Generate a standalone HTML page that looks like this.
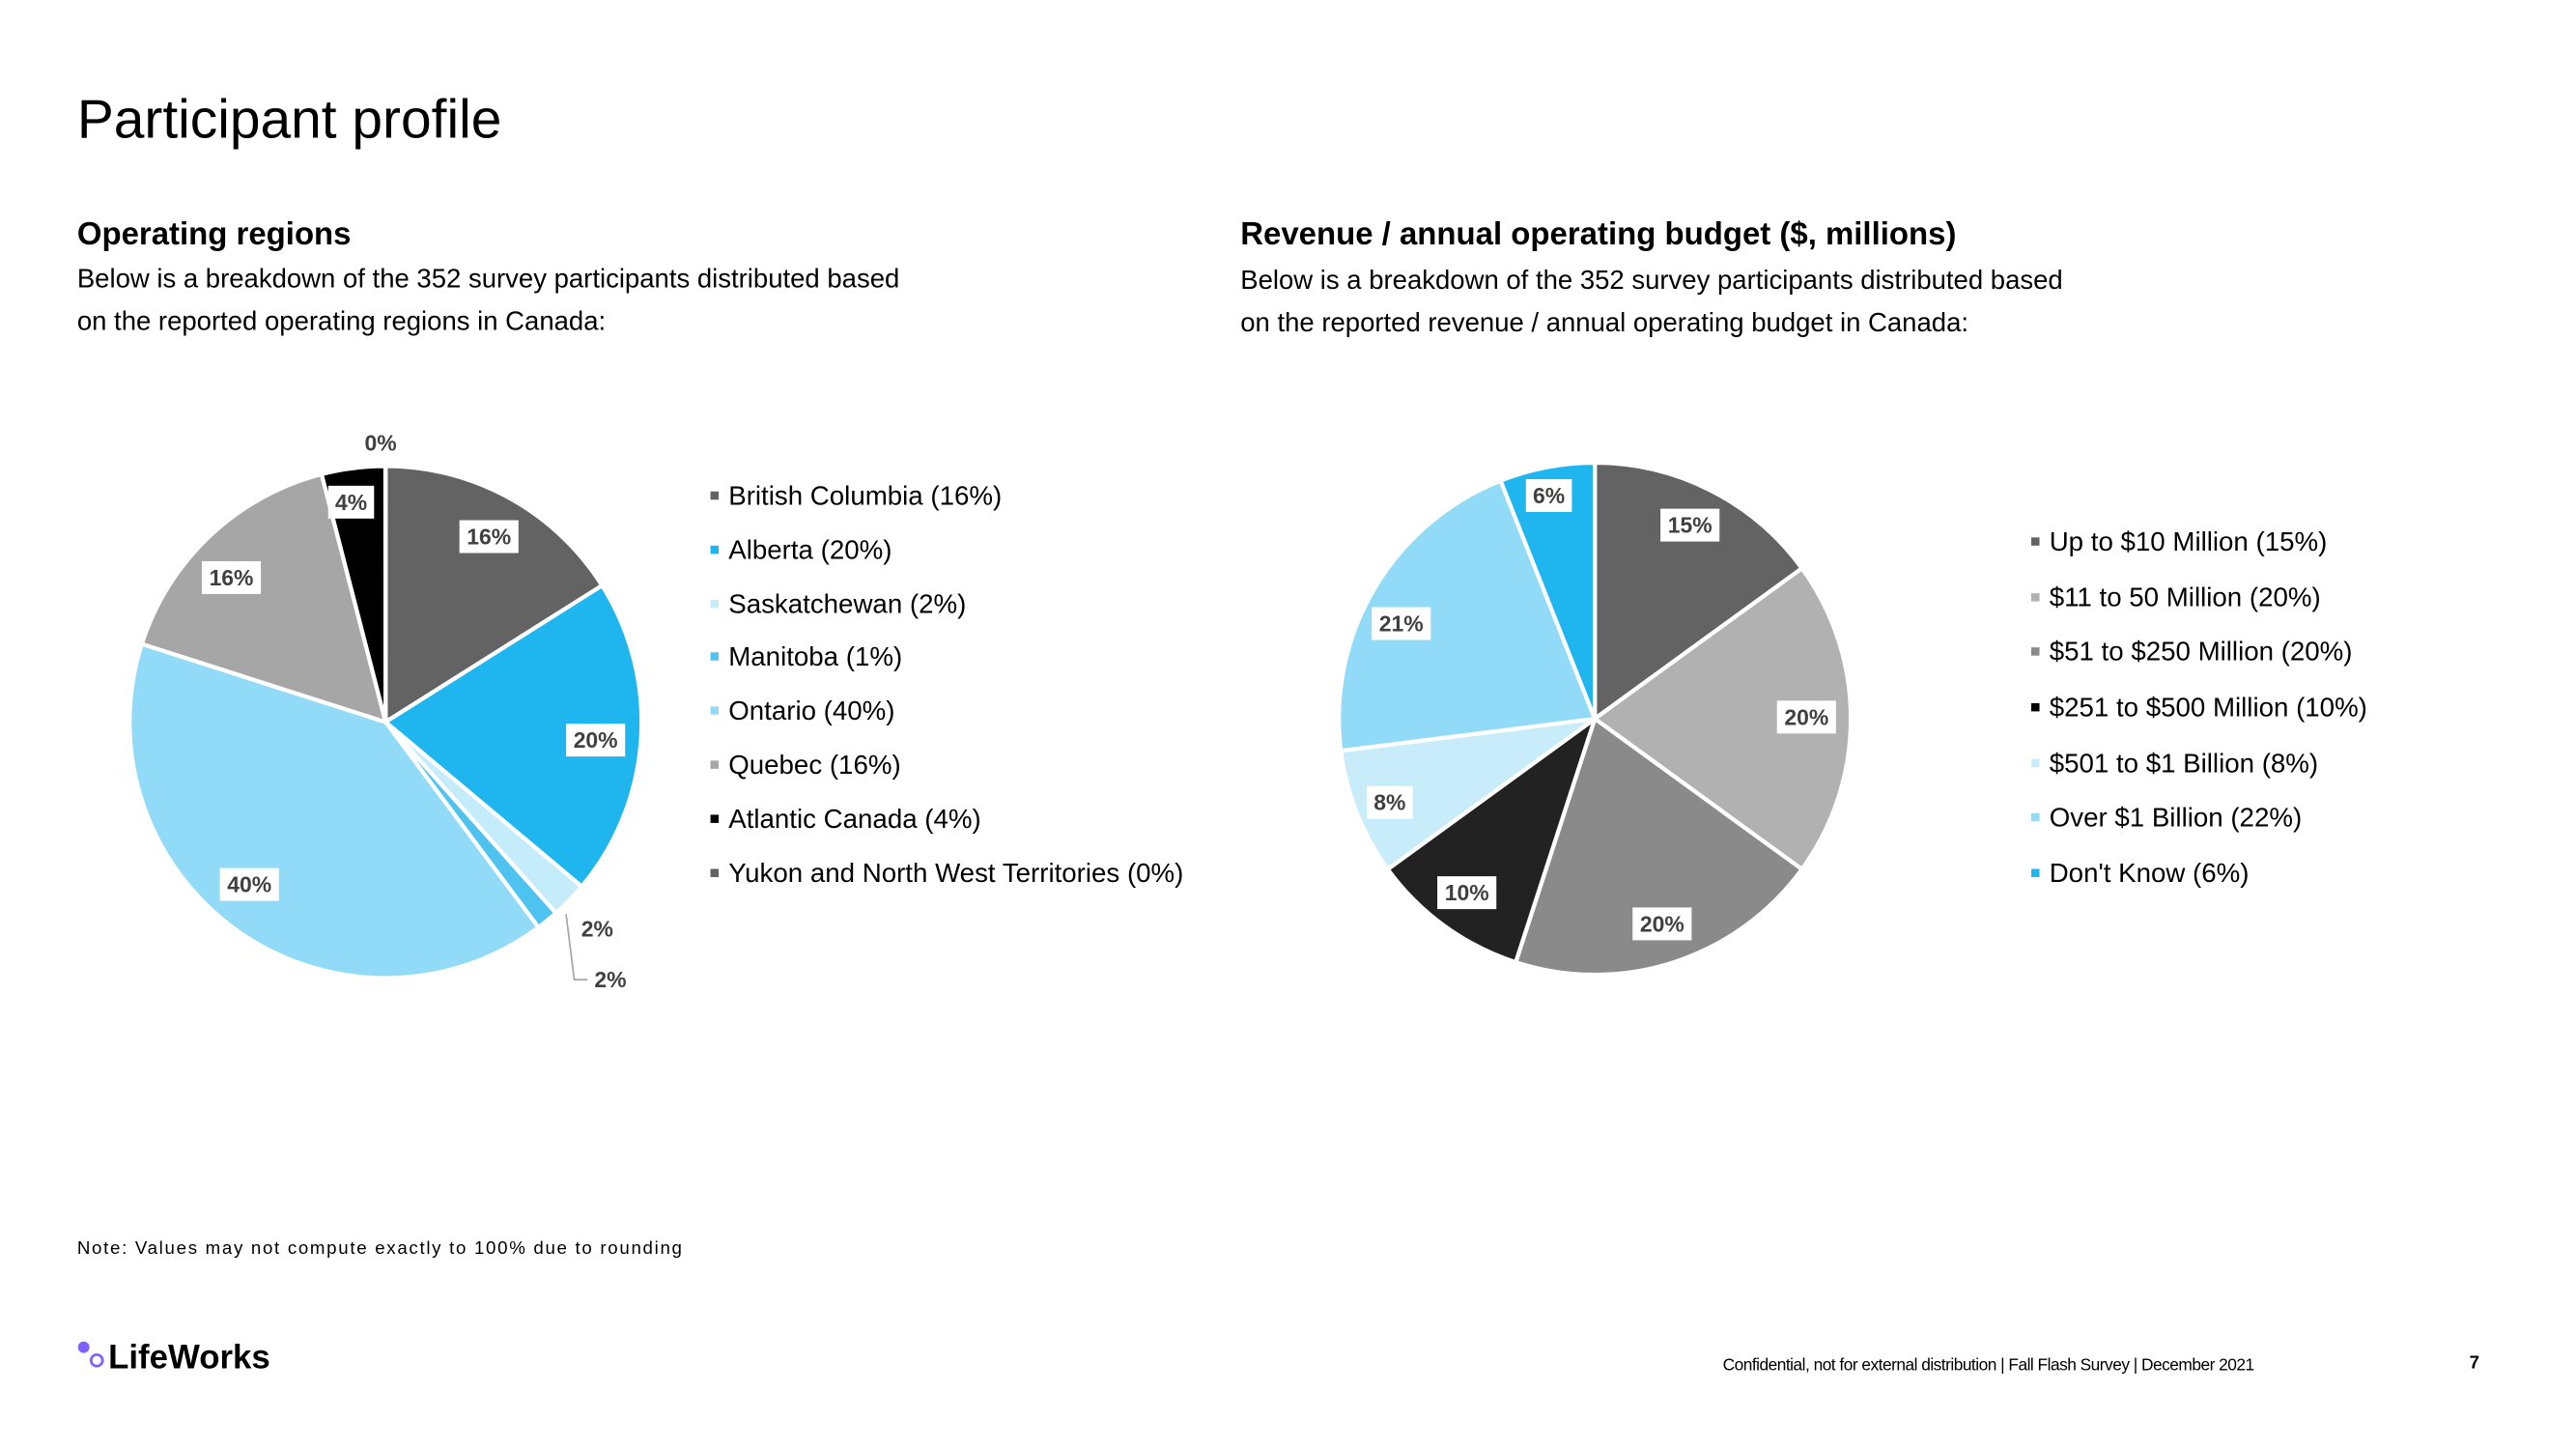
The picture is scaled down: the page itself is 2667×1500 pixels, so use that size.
<!DOCTYPE html>
<html><head><meta charset="utf-8"><style>
html,body{margin:0;padding:0;background:#fff;width:2667px;height:1500px;overflow:hidden}
svg{display:block}
text{font-family:"Liberation Sans",Arial,sans-serif;fill:#000}
.lbl{font-size:13.5px;font-weight:bold;fill:#404040;text-anchor:middle;dominant-baseline:central}
.leg{font-size:16.3px}
</style></head><body>
<svg id="s" width="2667" height="1500" viewBox="0 0 1570 883" xmlns="http://www.w3.org/2000/svg">
<text x="47" y="84" font-size="33.5">Participant profile</text>
<text x="47" y="149" font-size="19.4" font-weight="bold">Operating regions</text>
<text x="47" y="175" font-size="16.2">Below is a breakdown of the 352 survey participants distributed based</text>
<text x="47" y="201" font-size="16.2">on the reported operating regions in Canada:</text>
<text x="756" y="149" font-size="19.4" font-weight="bold">Revenue / annual operating budget ($, millions)</text>
<text x="756" y="176" font-size="16.2">Below is a breakdown of the 352 survey participants distributed based</text>
<text x="756" y="202" font-size="16.2">on the reported revenue / annual operating budget in Canada:</text>
<g id="p1"></g><g id="p2"></g>
<polyline points="345,557 350,597 358,597" fill="none" stroke="#a6a6a6" stroke-width="1"/>
<text x="232" y="270" class="lbl">0%</text>
<text x="364" y="566" class="lbl">2%</text>
<text x="372" y="597" class="lbl">2%</text>
<g id="labs"></g>
<g id="legs"></g>
<text x="47" y="764" font-size="11" letter-spacing="1">Note: Values may not compute exactly to 100% due to rounding</text>
<circle cx="51" cy="821" r="3.5" fill="#7b61ff"/><circle cx="59" cy="829" r="3.5" fill="none" stroke="#7b61ff" stroke-width="1.6"/>
<text x="66" y="834" font-size="20.5" font-weight="bold" fill="#1a1a2e">LifeWorks</text>
<text x="1050" y="835" font-size="10.2" letter-spacing="-0.3">Confidential, not for external distribution  | Fall Flash Survey  | December 2021</text>
<text x="1505" y="834" font-size="11" font-weight="bold">7</text>
</svg>
<script>
function pie(g,cx,cy,r,vals,cols){
 var tot=vals.reduce(function(a,b){return a+b},0),a=0,h="";
 vals.forEach(function(v,i){
  var a0=a/tot*2*Math.PI,a1=(a+v)/tot*2*Math.PI;a+=v;
  var x0=cx+r*Math.sin(a0),y0=cy-r*Math.cos(a0),x1=cx+r*Math.sin(a1),y1=cy-r*Math.cos(a1);
  h+='<path d="M'+cx+','+cy+'L'+x0+','+y0+'A'+r+','+r+' 0 '+((a1-a0)>Math.PI?1:0)+' 1 '+x1+','+y1+'Z" fill="'+cols[i]+'" stroke="#fff" stroke-width="2.5" stroke-linejoin="round"/>';
 });
 document.getElementById(g).innerHTML=h;
}
pie("p1",235,440,156,[16,20,2.3,1.4,40,16,4,0.01],["#636363","#1fb6ef","#c5ecfb","#4fc3f0","#91dbf8","#a6a6a6","#000","#636363"]);
pie("p2",972,438,156,[15,20,20,10,8,21,6],["#636363","#b1b1b1","#8a8a8a","#222222","#c9ecfb","#91dbf8","#1fb6ef"]);
var L=[[214,306,"4%"],[298,327,"16%"],[141,352,"16%"],[363,451,"20%"],[152,539,"40%"],[944,302,"6%"],[1030,320,"15%"],[854,380,"21%"],[1101,437,"20%"],[847,489,"8%"],[894,544,"10%"],[1013,563,"20%"]];
var h="";L.forEach(function(l){var w=l[2].length*8+12;h+='<rect x="'+(l[0]-w/2)+'" y="'+(l[1]-10)+'" width="'+w+'" height="20" fill="#fff"/><text x="'+l[0]+'" y="'+l[1]+'" class="lbl">'+l[2]+'</text>';});
document.getElementById("labs").innerHTML=h;
var G=[[433,302,"#636363","British Columbia (16%)"],[433,335,"#1fb6ef","Alberta (20%)"],[433,368,"#c5ecfb","Saskatchewan (2%)"],[433,400,"#4fc3f0","Manitoba (1%)"],[433,433,"#91dbf8","Ontario (40%)"],[433,466,"#a6a6a6","Quebec (16%)"],[433,499,"#000","Atlantic Canada (4%)"],[433,532,"#636363","Yukon and North West Territories (0%)"],
[1238,330,"#636363","Up to $10 Million (15%)"],[1238,364,"#b1b1b1","$11 to 50 Million (20%)"],[1238,397,"#8a8a8a","$51 to $250 Million (20%)"],[1238,431,"#000","$251 to $500 Million (10%)"],[1238,465,"#c9ecfb","$501 to $1 Billion (8%)"],[1238,498,"#91dbf8","Over $1 Billion (22%)"],[1238,532,"#1fb6ef","Don't Know (6%)"]];
h="";G.forEach(function(g){h+='<rect x="'+g[0]+'" y="'+(g[1]-2.5)+'" width="5" height="5" fill="'+g[2]+'"/><text x="'+(g[0]+11)+'" y="'+(g[1]+5.5)+'" class="leg">'+g[3]+'</text>';});
document.getElementById("legs").innerHTML=h;
</script>
</body></html>
